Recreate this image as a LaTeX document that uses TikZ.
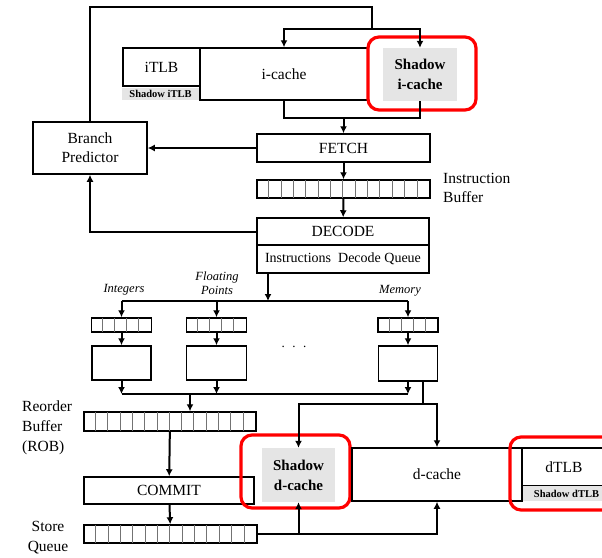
\documentclass[tikz,border=0pt]{standalone}
\usepackage{fontspec}
\setmainfont{Liberation Serif}
\usetikzlibrary{arrows.meta}
\begin{document}
\begin{tikzpicture}[x=1pt,y=-1pt]
        \tikzstyle{block}=[draw=black,line width=1.5pt,fill=white,inner sep=0pt,align=center,font=\fontsize{15.5}{19}\selectfont]
        \tikzstyle{shadowbox}=[fill=black!10,inner sep=0pt,align=center,font=\bfseries\fontsize{15}{20}\selectfont]
        \tikzstyle{shadowtag}=[fill=black!10,inner sep=0pt,font=\bfseries\fontsize{10.5}{12}\selectfont]
        \tikzstyle{redframe}=[draw=red,line width=3.2pt,rounded corners=11pt,inner sep=0pt]
        \tikzstyle{queue}=[draw=black,line width=1.5pt,fill=white,inner sep=0pt]
        \tikzstyle{cell}=[draw=black!55,line width=0.8pt,shorten >=0.8pt,shorten <=0.8pt]
        \tikzstyle{edge}=[draw=black,line width=2pt,-{Latex[length=7pt,width=7pt]}]
        \tikzstyle{wire}=[draw=black,line width=2pt]
        \tikzstyle{lbl}=[inner sep=0pt,align=left,font=\fontsize{15.5}{19.5}\selectfont]
        \tikzstyle{kind}=[inner sep=0pt,align=center,font=\itshape\fontsize{12.5}{14}\selectfont]

        \useasboundingbox (0,0) rectangle (602,557);
        \clip (0,0) rectangle (602,557);

        % front end
        \node [block, minimum width=77, minimum height=38] (itlb) at (161.5,67) {iTLB};
        \node [shadowtag, minimum width=77, minimum height=12] (sitlb) at (160.5,94) {Shadow iTLB};
        \node [block, minimum width=168, minimum height=52] (icache) at (284,74) {i-cache};
        \node [redframe, minimum width=108, minimum height=73] (icred) at (422,73.5) {};
        \node [shadowbox, minimum width=74, minimum height=53] (sicache) at (420,74.5) {Shadow\\i-cache};

        \node [block, minimum width=114, minimum height=52] (bp) at (90,148) {Branch\\Predictor};
        \node [block, minimum width=173, minimum height=28] (fetch) at (343.5,148) {FETCH};
        \node [queue, minimum width=173, minimum height=18] (ibuf) at (343.5,189) {};
        \node [lbl, anchor=west] (ibuflbl) at (443,188) {Instruction\\Buffer};
        \node [block, minimum width=172, minimum height=27] (decode) at (343,231.5) {DECODE};
        \node [block, minimum width=172, minimum height=28, font=\fontsize{14}{16}\selectfont] (ddq) at (343,259) {Instructions~~Decode Queue};

        % issue queues and units
        \node [kind] (intlbl) at (124,290) {Integers};
        \node [kind] (fplbl) at (217,283) {Floating\\Points};
        \node [kind] (memlbl) at (400,291) {Memory};

        \node [queue, minimum width=60, minimum height=14] (q1) at (121.5,325) {};
        \node [queue, minimum width=60, minimum height=14] (q2) at (216.5,325) {};
        \node [queue, minimum width=60, minimum height=14] (q3) at (408,325) {};
        \node [block, minimum width=59, minimum height=34] (u1) at (121.5,363) {};
        \node [block, minimum width=60, minimum height=34] (u2) at (216.5,363) {};
        \node [block, minimum width=59, minimum height=35] (u3) at (408,363.5) {};
        \node [inner sep=0pt, font=\fontsize{13}{14}\selectfont] (dots) at (294,347) {.\hspace{7.5pt}.\hspace{7.5pt}.};

        % back end
        \node [lbl, anchor=west, font=\fontsize{15.5}{20}\selectfont] (roblbl) at (22,428) {Reorder\\Buffer\\(ROB)};
        \node [queue, minimum width=172, minimum height=19] (rob) at (170,421.5) {};
        \node [block, minimum width=170, minimum height=27] (commit) at (169,490.5) {COMMIT};
        \node [lbl, align=center, font=\fontsize{15.5}{20}\selectfont] (stqlbl) at (48,538) {Store\\Queue};
        \node [queue, minimum width=173, minimum height=18] (stq) at (170.5,534) {};

        \node [shadowbox, minimum width=73, minimum height=54] (sdcache) at (298.5,475) {Shadow\\d-cache};
        \node [redframe, minimum width=109, minimum height=73] (dcred) at (295.5,471.5) {};
        \node [block, minimum width=170, minimum height=53] (dcache) at (437,474.5) {d-cache};
        \node [block, minimum width=84, minimum height=38] (dtlb) at (564,467) {dTLB};
        \node [shadowtag, minimum width=87, minimum height=15] (sdtlb) at (566.5,493.5) {Shadow dTLB};
        \node [redframe, minimum width=110, minimum height=73] (dtred) at (565,473.5) {};

        % queue cells
        \foreach \i in {1,...,13} {
          \draw[cell] ([xshift=\i*12.36]ibuf.south west) -- ([xshift=\i*12.36]ibuf.north west);
          \draw[cell] ([xshift=\i*12.29]rob.south west) -- ([xshift=\i*12.29]rob.north west);
          \draw[cell] ([xshift=\i*12.36]stq.south west) -- ([xshift=\i*12.36]stq.north west);
        }
        \foreach \q in {q1,q2,q3}
          \foreach \i in {1,...,4}
            \draw[cell] ([xshift=\i*12]\q.south west) -- ([xshift=\i*12]\q.north west);

        % connectors
        \coordinate (loopc) at (372,7);
        \coordinate (ctop) at (372,29);
        \coordinate (cbot) at (343.5,118);
        \coordinate (dsplit) at (268,301);
        \coordinate (busm) at (190,394);
        \coordinate (msplit) at (423,404);

        \draw[wire] (bp.north) |- (loopc) -- (ctop);
        \draw[edge] (ctop) -| (icache.north);
        \draw[edge] (ctop) -| (sicache.north);
        \draw[wire] (icache.south) |- (sicache.south |- cbot) -- (sicache.south);
        \draw[edge] (cbot) -- (fetch.north);
        \draw[edge] (fetch) -- (bp);
        \draw[edge] (fetch) -- (ibuf);
        \draw[edge] (ibuf) -- (decode);
        \draw[edge] (decode.west) -| (bp.south);

        \draw[edge] (ddq.south -| dsplit) -- (dsplit);
        \draw[wire] (q1.north |- dsplit) -- (q3.north |- dsplit);
        \draw[edge] (q1.north |- dsplit) -- (q1.north);
        \draw[edge] (q2.north |- dsplit) -- (q2.north);
        \draw[edge] (q3.north |- dsplit) -- (q3.north);
        \draw[edge] (q1) -- (u1);
        \draw[edge] (q2) -- (u2);
        \draw[edge] (q3) -- (u3);

        \draw[wire] (u1.south |- busm) -- (u3.south |- busm);
        \draw[edge] (u1.south) -- (u1.south |- busm);
        \draw[edge] (u2.south) -- (u2.south |- busm);
        \draw[edge] (u3.south) -- (u3.south |- busm);
        \draw[edge] (busm) -- (busm |- rob.north);
        \draw[wire] (msplit |- u3.south) -- (msplit);
        \draw[edge] (msplit) -| (sdcache.north);
        \draw[edge] (msplit) -| (dcache.north);

        \draw[edge] (rob) -- (commit);
        \draw[edge] (commit) -- (stq);
        \draw[edge] (stq.east) -| (dcache.south);
        \draw[edge] (sdcache.south |- stq.east) -- (sdcache.south);
\end{tikzpicture}
\end{document}
